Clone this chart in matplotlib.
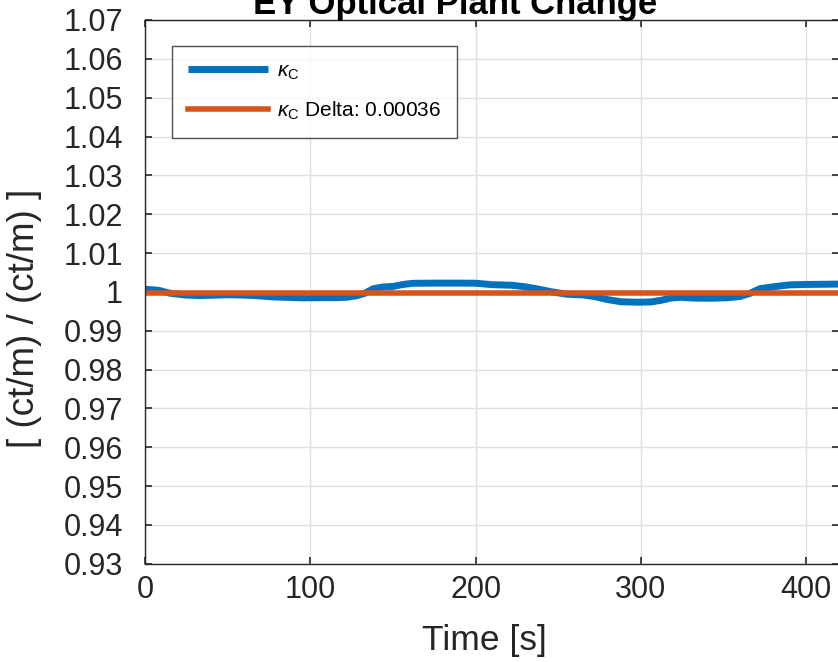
import matplotlib
matplotlib.use("Agg")
import matplotlib.pyplot as plt
from matplotlib.ticker import FuncFormatter, MultipleLocator

# values
time_s = [0, 8, 15, 25, 33, 42, 50, 58, 66, 77, 88, 95, 105, 115, 122, 128, 133, 138,
          144, 150, 156, 162, 175, 190, 200, 210, 222, 230, 238, 246, 255, 265, 272,
          280, 288, 298, 306, 312, 318, 324, 332, 342, 352, 360, 366, 372, 380, 390,
          400, 410, 420, 430]
kappa_c = [1.00067, 1.0004, 0.99964, 0.99915, 0.99905, 0.99915, 0.99925, 0.99918,
           0.99905, 0.99870, 0.99855, 0.99845, 0.99850, 0.99850, 0.99862, 0.99900,
           0.99964, 1.00080, 1.00125, 1.00140, 1.00190, 1.00220, 1.00225, 1.00225,
           1.00222, 1.00185, 1.00170, 1.00130, 1.00070, 1.00000, 0.99940, 0.99920,
           0.99880, 0.99800, 0.99745, 0.99733, 0.99740, 0.99780, 0.99840, 0.99860,
           0.99840, 0.99835, 0.99848, 0.99880, 0.99960, 1.00080, 1.00130, 1.00180,
           1.00190, 1.00195, 1.00200, 1.00200]
kappa_c_delta = 0.00036
xlim = (0, 420)
ylim = (0.93, 1.07)

blue = '#0072BD'
orange = '#D95319'
axcol = '#262626'

plt.rcParams['font.family'] = ['Liberation Sans', 'DejaVu Sans']
plt.rcParams['mathtext.fontset'] = 'custom'
plt.rcParams['mathtext.rm'] = 'Liberation Sans'
plt.rcParams['mathtext.it'] = 'Liberation Sans:italic'

W, H = 838, 662
fig = plt.figure(figsize=(W / 100, H / 100), dpi=100)
left, right, top, bottom = 145.3, 839.1, 20.0, 563.7
ax = fig.add_axes([left / W, 1 - bottom / H, (right - left) / W, (bottom - top) / H])

ax.plot(time_s, kappa_c, color=blue, lw=5.0, label=r'$\kappa_\mathrm{C}$',
        solid_capstyle='butt')
ax.plot(xlim, [1 - kappa_c_delta] * 2, color=orange, lw=4.0,
        label=r'$\kappa_\mathrm{C}$ Delta: %.5f' % kappa_c_delta)

ax.set_xlim(*xlim)
ax.set_ylim(*ylim)
ax.xaxis.set_major_locator(MultipleLocator(100))
ax.yaxis.set_major_locator(MultipleLocator(0.01))
ax.yaxis.set_major_formatter(FuncFormatter(lambda v, p: '%g' % round(v, 2)))

ax.grid(True, color='#dfdfdf', lw=1.0)
ax.set_axisbelow(True)
for s in ax.spines.values():
    s.set_color(axcol)
    s.set_linewidth(1.0)
ax.tick_params(direction='in', length=5, width=1.2, color=axcol, labelcolor=axcol,
               labelsize=22, top=True, right=True)
ax.tick_params(axis='y', pad=16)
ax.tick_params(axis='x', pad=8)

leg = ax.legend(loc='upper left', bbox_to_anchor=(172 / W, 1 - 46 / H),
                bbox_transform=fig.transFigure, fontsize=15, frameon=True,
                fancybox=False, edgecolor=axcol, handlelength=3.85,
                handletextpad=0.45, labelspacing=0.85, borderpad=0.75,
                borderaxespad=0)
leg.get_frame().set_linewidth(1.0)
for t in leg.get_texts():
    t.set_color('black')

fig.text(455 / W, 1 - 14 / H, 'EY Optical Plant Change', ha='center', va='baseline',
         fontsize=25, fontweight='bold', color='black')
fig.text(484 / W, 1 - 650 / H, 'Time [s]', ha='center', va='baseline',
         fontsize=25.5, color=axcol)
fig.text(25 / W, 1 - 318 / H, '[ (ct/m) / (ct/m) ]', ha='center', va='center',
         rotation=90, fontsize=26.5, color=axcol)

fig.savefig('out.png', dpi=100)
